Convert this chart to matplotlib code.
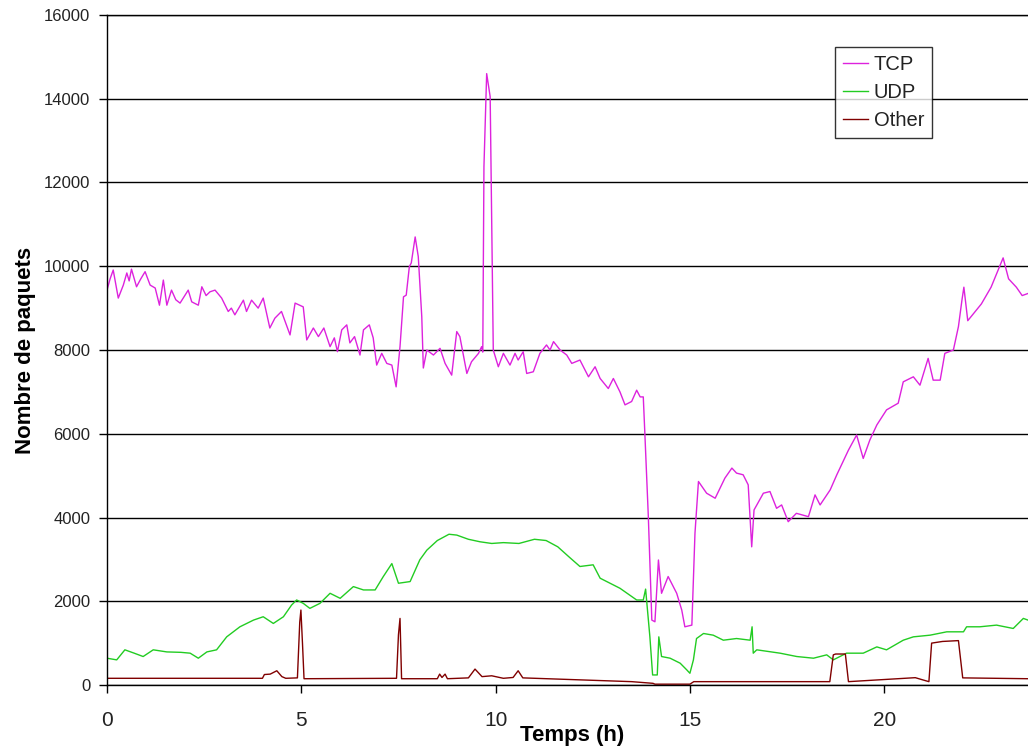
import matplotlib
matplotlib.use("Agg")
import matplotlib.pyplot as plt

# TCP packets per sample
tcp_t = [0.00, 0.08, 0.16, 0.29, 0.42, 0.51, 0.57, 0.63, 0.76, 0.87, 0.98, 1.11, 1.24, 1.35,
         1.45, 1.54, 1.66, 1.77, 1.88, 2.09, 2.18, 2.35, 2.44, 2.55, 2.65, 2.78, 2.95, 3.12,
         3.20, 3.29, 3.51, 3.59, 3.72, 3.89, 4.02, 4.19, 4.32, 4.49, 4.71, 4.84, 5.05, 5.14,
         5.31, 5.44, 5.58, 5.74, 5.85, 5.93, 6.04, 6.17, 6.25, 6.37, 6.51, 6.60, 6.75, 6.85,
         6.94, 7.07, 7.20, 7.33, 7.44, 7.54, 7.63, 7.70, 7.78, 7.83, 7.93, 8.01, 8.10, 8.14,
         8.23, 8.40, 8.57, 8.70, 8.87, 9.00, 9.08, 9.26, 9.38, 9.56, 9.64, 9.67, 9.70, 9.77,
         9.86, 9.90, 9.94, 10.07, 10.20, 10.37, 10.50, 10.58, 10.71, 10.80, 10.97, 11.14,
         11.31, 11.40, 11.49, 11.66, 11.83, 11.96, 12.17, 12.39, 12.56, 12.69, 12.90, 13.03,
         13.20, 13.33, 13.50, 13.63, 13.72, 13.80, 13.84, 13.93, 14.02, 14.10, 14.19, 14.27,
         14.44, 14.66, 14.79, 14.87, 15.05, 15.13, 15.22, 15.43, 15.65, 15.90, 16.08, 16.20,
         16.37, 16.50, 16.59, 16.65, 16.89, 17.06, 17.23, 17.36, 17.53, 17.74, 18.05, 18.22,
         18.35, 18.61, 18.78, 19.08, 19.29, 19.46, 19.63, 19.81, 20.06, 20.36, 20.49, 20.75,
         20.92, 21.13, 21.26, 21.44, 21.56, 21.78, 21.91, 22.00, 22.05, 22.15, 22.50, 22.75,
         23.06, 23.20, 23.40, 23.55, 23.70]
tcp_v = [9430, 9700, 9910, 9240, 9550, 9840, 9650, 9930, 9510, 9700, 9870, 9550, 9480, 9070,
         9670, 9070, 9430, 9200, 9120, 9430, 9150, 9070, 9510, 9300, 9390, 9430, 9240, 8920,
         9000, 8840, 9190, 8920, 9190, 9000, 9240, 8525, 8760, 8920, 8360, 9120, 9030, 8240,
         8525, 8320, 8525, 8080, 8290, 7960, 8480, 8600, 8170, 8320, 7880, 8480, 8600, 8290,
         7640, 7920, 7680, 7640, 7120, 8080, 9270, 9310, 9990, 10080, 10700, 10230, 8795, 7570,
         8000, 7880, 8040, 7680, 7400, 8440, 8320, 7440, 7720, 7920, 8080, 7950, 12380, 14600,
         14050, 10940, 8000, 7600, 7920, 7640, 7920, 7760, 7960, 7440, 7480, 7920,
         8120, 8000, 8200, 8000, 7880, 7680, 7760, 7360, 7600, 7320, 7080, 7320,
         7000, 6690, 6770, 7040, 6880, 6880, 6020, 4020, 1550, 1510, 2985, 2190,
         2590, 2190, 1790, 1390, 1430, 3620, 4860, 4580, 4460, 4940, 5180, 5060,
         5020, 4780, 3300, 4180, 4580, 4620, 4220, 4300, 3900, 4100, 4020, 4540,
         4300, 4660, 5020, 5610, 5970, 5410, 5850, 6210, 6570, 6730, 7240, 7360,
         7160, 7800, 7280, 7280, 7920, 8000, 8560, 9190, 9500, 8700, 9100, 9500,
         10200, 9700, 9500, 9300, 9350]

udp_t = [0.00, 0.25, 0.46, 0.70, 0.93, 1.19, 1.54, 1.90, 2.14, 2.35, 2.57, 2.82, 3.08, 3.42,
         3.77, 4.02, 4.28, 4.54, 4.75, 4.88, 5.05, 5.22, 5.48, 5.74, 6.00, 6.34, 6.60, 6.90,
         7.11, 7.33, 7.50, 7.80, 8.05, 8.23, 8.50, 8.80, 9.00, 9.30, 9.60, 9.90, 10.20, 10.60,
         11.00, 11.30, 11.60, 11.90, 12.17, 12.51, 12.69, 13.03, 13.20, 13.63, 13.80, 13.86,
         13.97, 14.04, 14.16, 14.20, 14.27, 14.49, 14.75, 14.92, 15.00, 15.09, 15.17, 15.35,
         15.60, 15.86, 16.20, 16.55, 16.60, 16.63, 16.72, 17.32, 17.75, 18.18, 18.52, 18.69,
         19.03, 19.46, 19.81, 20.06, 20.49, 20.75, 21.18, 21.61, 22.04, 22.12, 22.46, 22.89,
         23.32, 23.58, 23.70]
udp_v = [640, 600, 840, 760, 680, 840, 790, 780, 760, 640, 790, 840, 1150, 1390,
         1550, 1630, 1470, 1630, 1910, 2030, 1950, 1830, 1950, 2190, 2070, 2350, 2270, 2270,
         2590, 2900, 2430, 2470, 2990, 3220, 3450, 3600, 3580, 3480, 3420, 3380, 3400, 3380,
         3480, 3450, 3300, 3050, 2830, 2870, 2550, 2390, 2310, 2030, 2030, 2290,
         1150, 240, 240, 1150, 680, 640, 520, 360, 280, 600, 1110, 1230,
         1190, 1070, 1110, 1070, 1390, 760, 840, 760, 680, 640, 720, 600,
         760, 760, 910, 840, 1070, 1150, 1190, 1270, 1270, 1390, 1390, 1430,
         1350, 1590, 1550]

other_t = [0.00, 4.00, 4.05, 4.20, 4.37, 4.50, 4.60, 4.90, 4.96, 4.99, 5.03, 5.07, 7.45, 7.50,
           7.54, 7.58, 8.50, 8.56, 8.62, 8.70, 8.76, 9.30, 9.47, 9.65, 9.90, 10.10, 10.20,
           10.45, 10.58, 10.70, 13.50, 14.05, 14.10, 15.00, 15.10, 18.60, 18.69, 18.75, 19.00,
           19.08, 20.80, 21.00, 21.15, 21.22, 21.50, 21.91, 22.02, 23.70]
other_v = [160, 160, 250, 260, 340, 200, 160, 170, 1500, 1790, 1000, 150, 160, 1200,
           1590, 150, 150, 260, 180, 260, 150, 170, 380, 200, 220, 180, 160,
           180, 340, 170, 80, 40, 20, 20, 80, 80, 720, 740, 740,
           80, 175, 120, 80, 1000, 1040, 1060, 170, 150]

plt.rcParams["font.family"] = ["Liberation Sans", "DejaVu Sans"]

fig = plt.figure(figsize=(10.28, 7.5), dpi=100)
ax = fig.add_axes([107 / 1028, 65 / 750, 921 / 1028, 670 / 750])

ax.plot(tcp_t, tcp_v, color="#dd22dd", lw=1.0, label="TCP")
ax.plot(udp_t, udp_v, color="#22cc22", lw=1.0, label="UDP")
ax.plot(other_t, other_v, color="#800000", lw=1.0, label="Other")

ax.set_xlim(0, 23.7)
ax.set_ylim(0, 16000)
ax.set_xticks([0, 5, 10, 15, 20])
ax.set_yticks(range(0, 16001, 2000))
ax.yaxis.grid(True, color="black", lw=1.0)
ax.set_axisbelow(True)
ax.tick_params(direction="out", length=6, width=1, colors="black", labelcolor="#222222")
ax.tick_params(axis="x", labelsize=15, pad=13)
ax.tick_params(axis="y", labelsize=12, pad=6)

ax.spines["right"].set_visible(False)
for side in ["left", "bottom", "top"]:
    ax.spines[side].set_color("black")
    ax.spines[side].set_linewidth(1.0)

ax.set_xlabel("Temps (h)", fontsize=16, fontweight="bold", va="center")
ax.xaxis.set_label_coords(0.505, -0.075)
ax.set_ylabel("Nombre de paquets", fontsize=16, fontweight="bold", va="center")
ax.yaxis.set_label_coords(-0.089, 0.5)

leg = ax.legend(loc="upper left", bbox_to_anchor=(0.79, 0.952), fontsize=14.5,
                frameon=True, fancybox=False, handlelength=1.25, handletextpad=0.3,
                borderpad=0.4, labelspacing=0.45, borderaxespad=0)
leg.get_frame().set_edgecolor("black")
leg.get_frame().set_linewidth(1.0)
for txt in leg.get_texts():
    txt.set_color("#222222")

fig.savefig("out.png", dpi=100)
